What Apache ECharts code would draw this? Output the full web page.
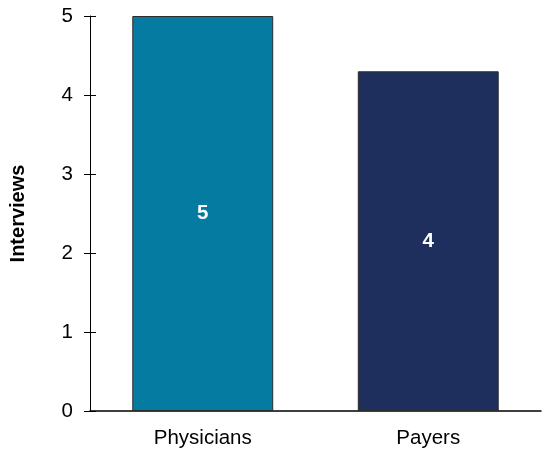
<!DOCTYPE html>
<html>
<head>
<meta charset="utf-8">
<script src="https://cdn.jsdelivr.net/npm/echarts@6/dist/echarts.min.js"></script>
<style>
html, body { margin: 0; padding: 0; background: #fff; }
#main { width: 542px; height: 453px; }
</style>
</head>
<body>
<div id="main"></div>
<script>
// chart data
var categories = ['Physicians', 'Payers'];
var interviews = [5, 4.3];
var barLabels = ['5', '4'];
var barColors = ['#057ba1', '#1f2f5d'];
var yTicks = [0, 1, 2, 3, 4, 5];

var FONT = '"Liberation Sans", Arial, sans-serif';

var myChart = echarts.init(document.getElementById('main'));

var option = {
	animation: false,
	grid: { left: 89, right: 1, top: 16, bottom: 42 },
	xAxis: {
		type: 'category',
		data: categories,
		axisLine: { show: true, lineStyle: { color: '#000', width: 1.5 } },
		axisTick: { show: false },
		axisLabel: { color: '#000', fontSize: 20.5, fontFamily: FONT, margin: 17 }
	},
	yAxis: [
		{
			type: 'value',
			min: yTicks[0],
			max: yTicks[yTicks.length - 1],
			interval: 1,
			name: 'Interviews',
			nameLocation: 'middle',
			nameGap: 62,
			nameTextStyle: { color: '#000', fontSize: 20, fontWeight: 'bold', fontFamily: FONT },
			axisLine: { show: true, lineStyle: { color: '#000', width: 1 } },
			axisTick: { show: true, length: 6, lineStyle: { color: '#000' } },
			axisLabel: { color: '#000', fontSize: 20.5, fontFamily: FONT, margin: 17 },
			splitLine: { show: false }
		},
		{
			// second copy only to draw the inside half of the ticks
			type: 'value',
			position: 'left',
			min: yTicks[0],
			max: yTicks[yTicks.length - 1],
			interval: 1,
			axisLine: { show: false },
			axisTick: { show: true, inside: true, length: 6, lineStyle: { color: '#000' } },
			axisLabel: { show: false },
			splitLine: { show: false }
		}
	],
	series: [{
		type: 'bar',
		barWidth: '62.5%',
		data: interviews.map(function (v, i) {
			return {
				value: v,
				itemStyle: { color: barColors[i], borderColor: '#2b2b2b', borderWidth: 1 }
			};
		}),
		label: {
			show: true,
			position: 'inside',
			color: '#fff',
			fontSize: 20.5,
			fontWeight: 'bold',
			fontFamily: FONT,
			formatter: function (p) { return barLabels[p.dataIndex]; }
		}
	}]
};

myChart.setOption(option);
</script>
</body>
</html>
